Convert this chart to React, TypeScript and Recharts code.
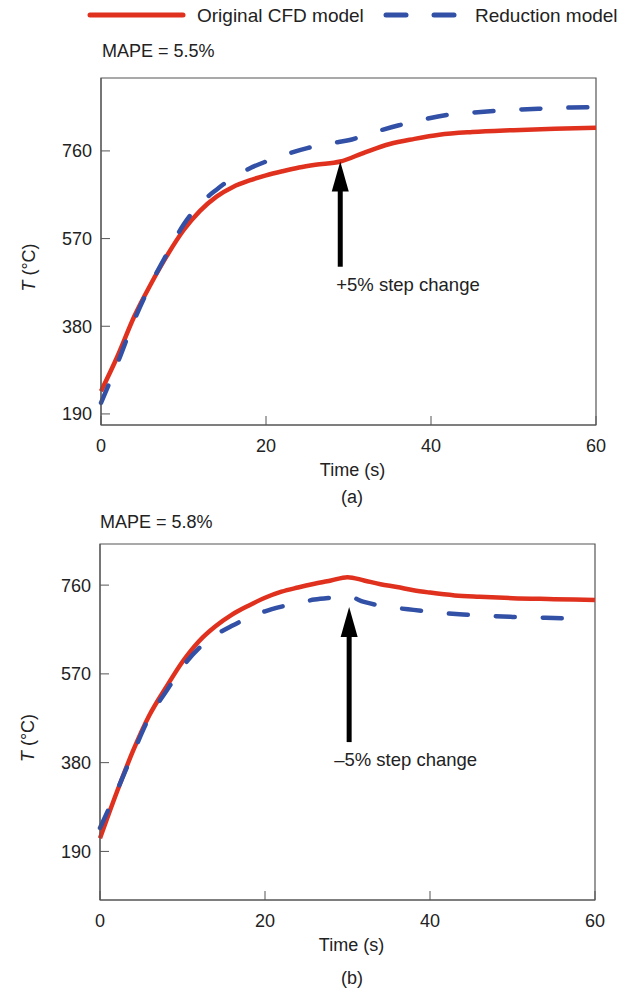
import React from 'react';
import { LineChart, Line, XAxis, YAxis, ReferenceArea, ReferenceLine } from 'recharts';

// (a) +5% step change
const timeA_cfd = [0, 2, 4, 6, 8, 10, 12, 14, 16, 18, 20, 22, 24, 26, 29, 32, 35, 38, 41, 45, 50, 55, 60];
const tempA_cfd = [239, 315, 400, 470, 533, 588, 630, 661, 682, 696, 707, 716, 724, 730, 737, 757, 775, 786, 795, 801, 805, 808, 810];
const timeA_red = [0, 2, 4, 6, 8, 10, 12, 14, 16, 18, 20, 22, 25, 28, 30, 33, 36, 39, 42, 45, 48, 51, 54, 57, 60];
const tempA_red = [214, 300, 392, 470, 537, 600, 645, 676, 702, 722, 737, 750, 766, 777, 783, 800, 815, 828, 838, 843, 847, 850, 852, 854, 855];

// (b) -5% step change
const timeB_cfd = [0, 2, 4, 6, 8, 10, 12, 14, 16, 18, 20, 22, 24, 26, 28, 30, 32, 34, 36, 38, 40, 43, 46, 50, 55, 60];
const tempB_cfd = [218, 315, 405, 482, 541, 596, 640, 672, 697, 716, 733, 746, 755, 763, 770, 777, 770, 762, 756, 749, 744, 738, 735, 732, 730, 728];
const timeB_red = [0, 2, 4, 6, 8, 10, 12, 14, 16, 18, 20, 22, 24, 26, 28, 30, 32, 34, 36, 38, 41, 44, 47, 50, 54, 58];
const tempB_red = [240, 318, 400, 478, 532, 585, 625, 653, 673, 690, 704, 714, 722, 729, 733, 736, 724, 716, 711, 707, 701, 697, 694, 692, 690, 688];

const xTicks = [0, 20, 40, 60];
const yTicks = [190, 380, 570, 760];

const RED = '#e0311f';
const BLUE = '#3150a6';
const AXIS = '#555';
const TEXT = '#222';
const FONT = '"Liberation Sans", Arial, Helvetica, sans-serif';

const toPoints = (ts: number[], vs: number[]) => ts.map((t, i) => ({ t, v: vs[i] }));

function arrowShape(label: string, dx: number) {
  return (props: any) => {
    const { x1, y1, x2, y2 } = props;
    const x = (x1 + x2) / 2;
    const top = Math.min(y1, y2);
    const bottom = Math.max(y1, y2);
    return (
      <g>
        <line x1={x} y1={bottom} x2={x} y2={top + 25} stroke="#000" strokeWidth={5} />
        <polygon points={`${x},${top} ${x - 8.5},${top + 30} ${x + 8.5},${top + 30}`} fill="#000" />
        <text x={x + dx} y={bottom + 24} fontSize={18.5} fill={TEXT} fontFamily={FONT}>
          {label}
        </text>
      </g>
    );
  };
}

interface PanelProps {
  cfd: { t: number; v: number }[];
  red: { t: number; v: number }[];
  domain: [number, number];
  height: number;
  margin: { top: number; right: number; bottom: number; left: number };
  arrow: { t: number; from: number; to: number; label: string; dx: number };
}

function Panel({ cfd, red, domain, height, margin, arrow }: PanelProps) {
  return (
    <LineChart width={622} height={height} margin={margin}>
      <XAxis
        dataKey="t"
        type="number"
        domain={[0, 60]}
        ticks={xTicks}
        height={30}
        tickSize={-9}
        tickMargin={23}
        stroke={AXIS}
        tick={{ fill: TEXT, fontSize: 18, fontFamily: FONT }}
        label={{
          content: ({ viewBox }: any) => (
            <text
              x={viewBox.x + viewBox.width / 2 + 4}
              y={viewBox.y + 51}
              fontFamily={FONT}
              fontSize={18}
              fill={TEXT}
              textAnchor="middle"
            >
              Time (s)
            </text>
          ),
        }}
      />
      <YAxis
        dataKey="v"
        type="number"
        domain={domain}
        ticks={yTicks}
        width={60}
        tickSize={-9}
        tickMargin={18}
        stroke={AXIS}
        tick={{ fill: TEXT, fontSize: 18, fontFamily: FONT }}
        label={{
          content: ({ viewBox }: any) => (
            <text
              x={viewBox.x - 12}
              y={viewBox.y + viewBox.height / 2 + 16}
              transform={`rotate(-90, ${viewBox.x - 12}, ${viewBox.y + viewBox.height / 2 + 16})`}
              textAnchor="middle"
              dominantBaseline="central"
              fontFamily={FONT}
              fontSize={18}
              fill={TEXT}
            >
              <tspan fontStyle="italic">T</tspan> (°C)
            </text>
          ),
        }}
      />
      <ReferenceArea x1={0} x2={60} y1={domain[0]} y2={domain[1]} fill="none" stroke={AXIS} strokeWidth={1.2} />
      <Line
        data={cfd}
        dataKey="v"
        type="monotone"
        stroke={RED}
        strokeWidth={4.5}
        dot={false}
        isAnimationActive={false}
      />
      <Line
        data={red}
        dataKey="v"
        type="monotone"
        stroke={BLUE}
        strokeWidth={4.5}
        strokeDasharray="19 28"
        strokeLinecap="round"
        dot={false}
        isAnimationActive={false}
      />
      <ReferenceLine
        segment={[
          { x: arrow.t, y: arrow.from },
          { x: arrow.t, y: arrow.to },
        ]}
        ifOverflow="visible"
        shape={arrowShape(arrow.label, arrow.dx)}
      />
    </LineChart>
  );
}

export default function App() {
  return (
    <div style={{ position: 'absolute', left: 0, top: 0, width: 622, height: 989, background: '#fff' }}>
      <div style={{ position: 'absolute', left: 0, top: 0 }}>
        <Panel
          cfd={toPoints(timeA_cfd, tempA_cfd)}
          red={toPoints(timeA_red, tempA_red)}
          domain={[166, 918]}
          height={500}
          margin={{ top: 78, right: 26, bottom: 45, left: 41 }}
          arrow={{ t: 29, from: 509, to: 737, label: '+5% step change', dx: -4 }}
        />
      </div>
      <div style={{ position: 'absolute', left: 0, top: 500 }}>
        <Panel
          cfd={toPoints(timeB_cfd, tempB_cfd)}
          red={toPoints(timeB_red, tempB_red)}
          domain={[86, 848]}
          height={489}
          margin={{ top: 44, right: 27, bottom: 59, left: 40 }}
          arrow={{ t: 30.2, from: 424, to: 713, label: '\u20135% step change', dx: -15 }}
        />
      </div>
      <svg width={622} height={989} style={{ position: 'absolute', left: 0, top: 0, pointerEvents: 'none' }}>
        <g fontFamily={FONT} fontSize={18} fill={TEXT}>
          <line x1={90} y1={15} x2={183} y2={15} stroke={RED} strokeWidth={5} strokeLinecap="round" />
          <text x={197} y={22} fontSize={19}>Original CFD model</text>
          <line x1={386} y1={15} x2={406} y2={15} stroke={BLUE} strokeWidth={5} strokeLinecap="round" />
          <line x1={434} y1={15} x2={454} y2={15} stroke={BLUE} strokeWidth={5} strokeLinecap="round" />
          <text x={475} y={22} fontSize={19}>Reduction model</text>
          <text x={102} y={57}>MAPE = 5.5%</text>
          <text x={100} y={528}>MAPE = 5.8%</text>
          <text x={352} y={503} textAnchor="middle">(a)</text>
          <text x={352} y={984} textAnchor="middle">(b)</text>
        </g>
      </svg>
    </div>
  );
}
